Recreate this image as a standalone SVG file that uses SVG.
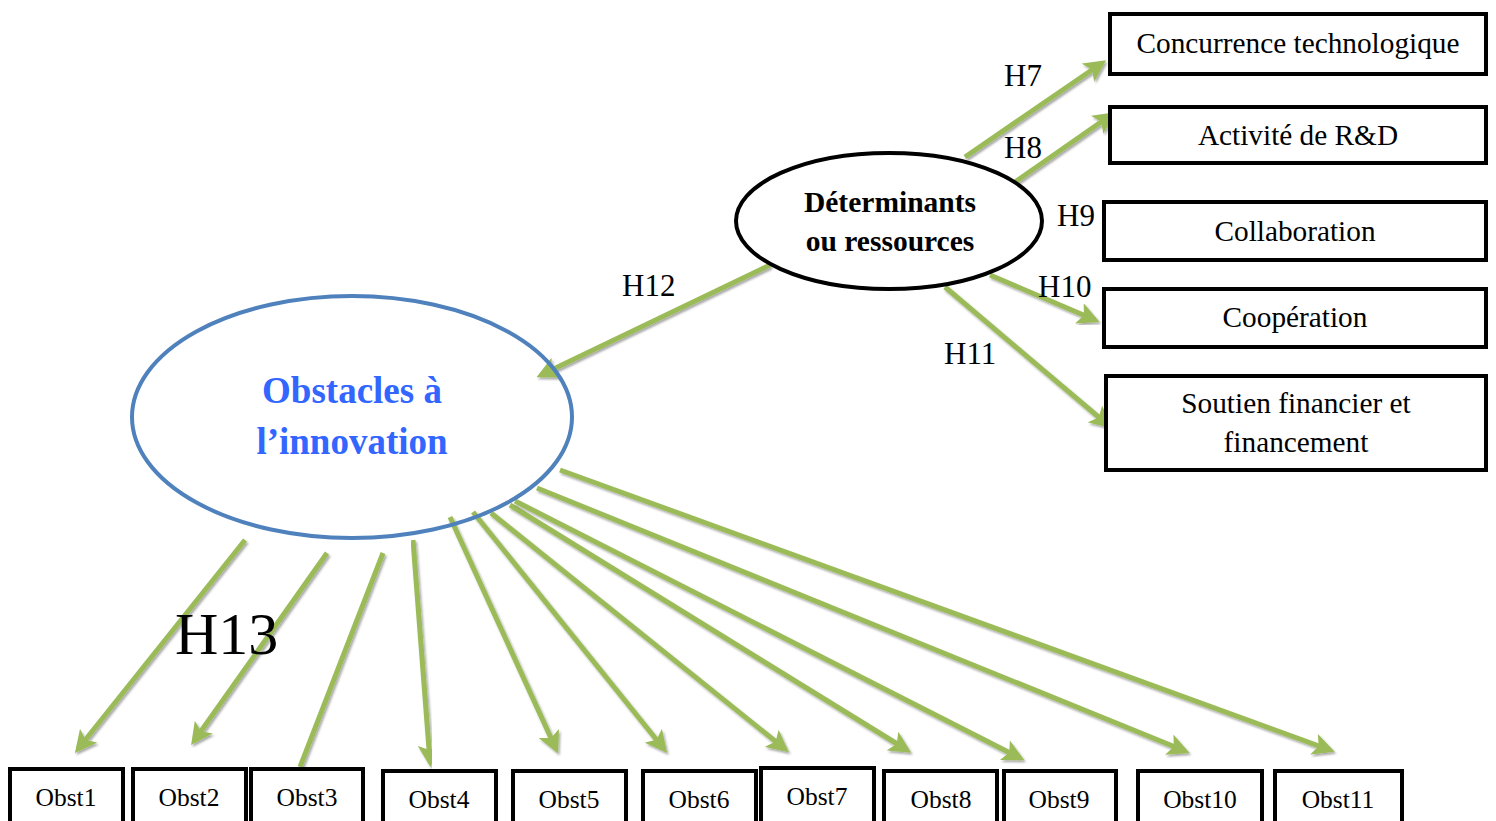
<svg xmlns="http://www.w3.org/2000/svg" width="1496" height="821" viewBox="0 0 1496 821">
  <style>
    .box { fill: #ffffff; stroke: #000000; stroke-width: 4; }
    .lbl { font-family: "Liberation Serif", "Times New Roman", serif; fill: #000000; text-anchor: middle; }
    .hyp { font-family: "Liberation Serif", "Times New Roman", serif; fill: #000000; font-size: 31px; }
    .obst { font-size: 25.5px; }
    .side { font-size: 29.3px; }
    .link { fill: none; stroke: #9BBB59; stroke-width: 5; marker-end: url(#head); filter: url(#shadow); }
    .plain { fill: none; stroke: #9BBB59; stroke-width: 5; filter: url(#shadow); }
  </style>
  <defs>
    <marker id="head" viewBox="0 0 22 22" refX="17" refY="11" markerWidth="22" markerHeight="22" markerUnits="userSpaceOnUse" orient="auto">
      <path d="M0,0 L22,11 L0,22 L5,11 z" fill="#9BBB59"/>
    </marker>
    <filter id="shadow" x="-10%" y="-10%" width="120%" height="120%">
      <feDropShadow dx="1.5" dy="2" stdDeviation="1.2" flood-color="#000000" flood-opacity="0.35"/>
    </filter>
  </defs>

  <rect width="1496" height="821" fill="#ffffff"/>

  <!-- connectors -->
  <g id="connectors">
    <line class="link" x1="965" y1="157" x2="1102" y2="63"/>
    <line class="link" x1="1015" y1="182" x2="1111" y2="115"/>
    <line class="link" x1="1030" y1="243" x2="1098" y2="243"/>
    <line class="link" x1="990" y1="275" x2="1095" y2="320"/>
    <line class="link" x1="945" y1="287" x2="1108" y2="425"/>
    <line class="link" x1="770" y1="265" x2="541" y2="375"/>

    <line class="link" x1="245" y1="540" x2="78" y2="749"/>
    <line class="link" x1="327" y1="553" x2="194" y2="741"/>
    <line class="plain" x1="383" y1="553" x2="300" y2="767"/>
    <line class="link" x1="413" y1="540" x2="430" y2="762"/>
    <line class="link" x1="450" y1="517" x2="556" y2="749"/>
    <line class="link" x1="473" y1="512" x2="664" y2="749"/>
    <line class="link" x1="491" y1="513" x2="785" y2="749"/>
    <line class="link" x1="510" y1="505" x2="907" y2="750"/>
    <line class="link" x1="515" y1="501" x2="1020" y2="758"/>
    <line class="link" x1="537" y1="488" x2="1185" y2="751"/>
    <line class="link" x1="560" y1="470" x2="1330" y2="750"/>
  </g>

  <!-- hypothesis labels -->
  <g id="hypotheses">
    <text class="hyp" x="1004" y="86">H7</text>
    <text class="hyp" x="1004" y="158">H8</text>
    <text class="hyp" x="1057" y="226">H9</text>
    <text class="hyp" x="1038" y="297">H10</text>
    <text class="hyp" x="944" y="364">H11</text>
    <text class="hyp" x="622" y="296">H12</text>
    <text class="hyp" x="175" y="654" style="font-size:60px">H13</text>
  </g>

  <!-- central latent variables -->
  <g id="obstacles">
    <ellipse cx="352" cy="417" rx="220" ry="121" fill="#ffffff" fill-opacity="0" stroke="#4F81BD" stroke-width="4"/>
    <text class="lbl" x="352" y="403" style="font-size:37px;font-weight:bold;fill:#3366FF">Obstacles à</text>
    <text class="lbl" x="352" y="454" style="font-size:37px;font-weight:bold;fill:#3366FF">l’innovation</text>
  </g>

  <g id="determinants">
    <ellipse cx="889" cy="221" rx="153" ry="68" fill="#ffffff" stroke="#000000" stroke-width="4"/>
    <text class="lbl" x="890" y="212" style="font-size:29.5px;font-weight:bold">Déterminants</text>
    <text class="lbl" x="890" y="251" style="font-size:29.5px;font-weight:bold">ou ressources</text>
  </g>

  <!-- determinant indicators -->
  <g id="concurrence">
    <rect class="box" x="1110" y="14" width="376" height="60"/>
    <text class="lbl side" x="1298" y="53">Concurrence technologique</text>
  </g>
  <g id="activite-rd">
    <rect class="box" x="1110" y="107" width="376" height="56"/>
    <text class="lbl side" x="1298" y="145">Activité de R&amp;D</text>
  </g>
  <g id="collaboration">
    <rect class="box" x="1104" y="202" width="382" height="58"/>
    <text class="lbl side" x="1295" y="241">Collaboration</text>
  </g>
  <g id="cooperation">
    <rect class="box" x="1104" y="289" width="382" height="58"/>
    <text class="lbl side" x="1295" y="327">Coopération</text>
  </g>
  <g id="soutien">
    <rect class="box" x="1106" y="376" width="380" height="94"/>
    <text class="lbl side" x="1296" y="413">Soutien financier et</text>
    <text class="lbl side" x="1296" y="452">financement</text>
  </g>

  <!-- obstacle indicators -->
  <g id="obst1">
    <rect class="box" x="10" y="769" width="113" height="60"/>
    <text class="lbl obst" x="66" y="806">Obst1</text>
  </g>
  <g id="obst2">
    <rect class="box" x="133" y="769" width="113" height="60"/>
    <text class="lbl obst" x="189" y="806">Obst2</text>
  </g>
  <g id="obst3">
    <rect class="box" x="251" y="769" width="112" height="60"/>
    <text class="lbl obst" x="307" y="806">Obst3</text>
  </g>
  <g id="obst4">
    <rect class="box" x="383" y="771" width="113" height="60"/>
    <text class="lbl obst" x="439" y="808">Obst4</text>
  </g>
  <g id="obst5">
    <rect class="box" x="513" y="771" width="113" height="60"/>
    <text class="lbl obst" x="569" y="808">Obst5</text>
  </g>
  <g id="obst6">
    <rect class="box" x="643" y="771" width="113" height="60"/>
    <text class="lbl obst" x="699" y="808">Obst6</text>
  </g>
  <g id="obst7">
    <rect class="box" x="761" y="768" width="113" height="60"/>
    <text class="lbl obst" x="817" y="805">Obst7</text>
  </g>
  <g id="obst8">
    <rect class="box" x="884" y="771" width="113" height="60"/>
    <text class="lbl obst" x="941" y="808">Obst8</text>
  </g>
  <g id="obst9">
    <rect class="box" x="1004" y="771" width="112" height="60"/>
    <text class="lbl obst" x="1059" y="808">Obst9</text>
  </g>
  <g id="obst10">
    <rect class="box" x="1138" y="771" width="124" height="60"/>
    <text class="lbl obst" x="1200" y="808">Obst10</text>
  </g>
  <g id="obst11">
    <rect class="box" x="1275" y="771" width="127" height="60"/>
    <text class="lbl obst" x="1338" y="808">Obst11</text>
  </g>
</svg>
